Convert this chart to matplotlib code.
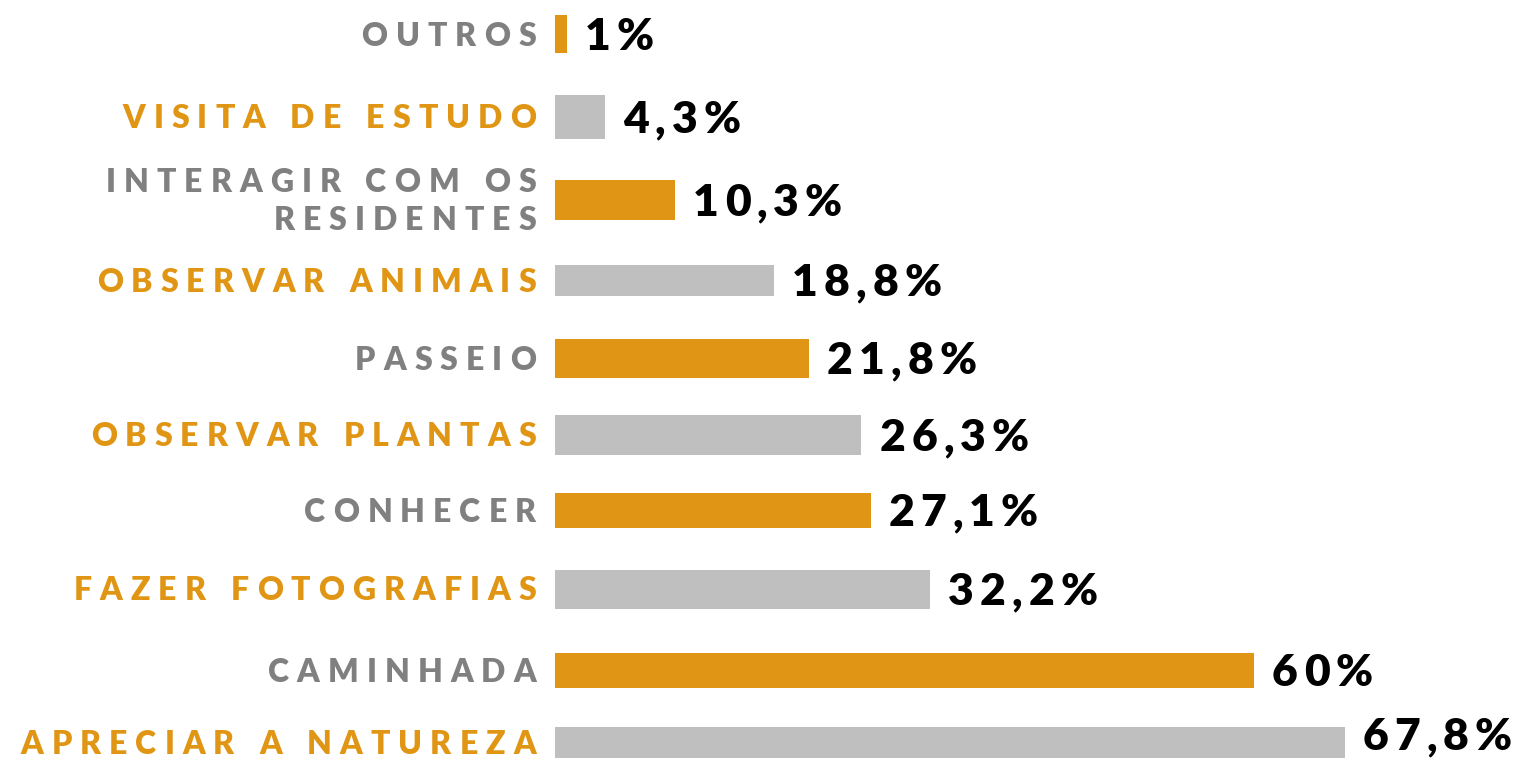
import matplotlib
matplotlib.use("Agg")
import matplotlib.pyplot as plt
from matplotlib.transforms import blended_transform_factory, IdentityTransform

# ── dados ────────────────────────────────────────────────────────────────
categories = ["OUTROS", "VISITA DE ESTUDO", "INTERAGIR COM OS\nRESIDENTES",
              "OBSERVAR ANIMAIS", "PASSEIO", "OBSERVAR PLANTAS", "CONHECER",
              "FAZER FOTOGRAFIAS", "CAMINHADA", "APRECIAR A NATUREZA"]
values = [1, 4.3, 10.3, 18.8, 21.8, 26.3, 27.1, 32.2, 60, 67.8]
value_labels = ["1%", "4,3%", "10,3%", "18,8%", "21,8%", "26,3%",
                "27,1%", "32,2%", "60%", "67,8%"]

# ── layout (pixels) ──────────────────────────────────────────────────────
W, H = 1534, 761
row_y = [34, 117, 200, 280, 358, 435, 510, 589, 670, 742]
bar_h = [38, 44, 40, 31, 39, 40, 35, 39, 35, 31]
val_dy = [0, 0, 0, 0, 0, 0, 0, 0, 0, -8]   # last value sits a bit higher
bar_left = 555
px_per_pct = 11.65

ORANGE = "#E09614"
GRAY_BAR = "#BFBFBF"
GRAY_TXT = "#808080"

fig = plt.figure(figsize=(W / 100, H / 100), dpi=100)
ax = fig.add_axes([bar_left / W, 0, (W - bar_left) / W, 1])
ax.set_xlim(0, (W - bar_left) / px_per_pct)
ax.set_ylim(H, 0)
ax.axis("off")

bar_cols = [ORANGE if i % 2 == 0 else GRAY_BAR for i in range(len(values))]
lab_cols = [GRAY_TXT if i % 2 == 0 else ORANGE for i in range(len(values))]

ax.barh(row_y, values, height=bar_h, color=bar_cols, align="center")

renderer = fig.canvas.get_renderer()
tr = blended_transform_factory(IdentityTransform(), ax.transData)


def tracked(x_px, y_base, s, track, gap, ha, **kw):
    """draw text with letter spacing, x in pixels, y baseline in data"""
    widths = []
    for ch in s:
        if ch == " ":
            widths.append(gap)
        else:
            t = ax.text(0, 0, ch, **kw)
            widths.append(t.get_window_extent(renderer).width)
            t.remove()
    total = sum(widths) + track * (len(s) - 1)
    x = x_px - total if ha == "right" else x_px
    for ch, w in zip(s, widths):
        if ch != " ":
            ax.text(x, y_base, ch, transform=tr, ha="left", va="baseline", **kw)
        x += w + track


lab_size, val_size = 23, 32
lab_kw = dict(fontfamily="Lato", fontweight="heavy", fontsize=lab_size)
val_kw = dict(fontfamily="Lato", fontweight="heavy", fontsize=val_size, color="black")
cap_lab = 0.72 * lab_size * 100 / 72
cap_val = 0.72 * val_size * 100 / 72

label_right = 536
for y, cat, col in zip(row_y, categories, lab_cols):
    lines = cat.split("\n")
    n = len(lines)
    for k, line in enumerate(lines):
        yc = y + (k - (n - 1) / 2) * 38
        tracked(label_right, yc + cap_lab / 2, line, 8, 9, "right", color=col, **lab_kw)

for y, v, lbl, dy in zip(row_y, values, value_labels, val_dy):
    x_end = ax.transData.transform((v, 0))[0]
    tracked(x_end + 18, y + dy + cap_val / 2, lbl, 6, 0, "left", **val_kw)

fig.savefig("out.png", dpi=100)
